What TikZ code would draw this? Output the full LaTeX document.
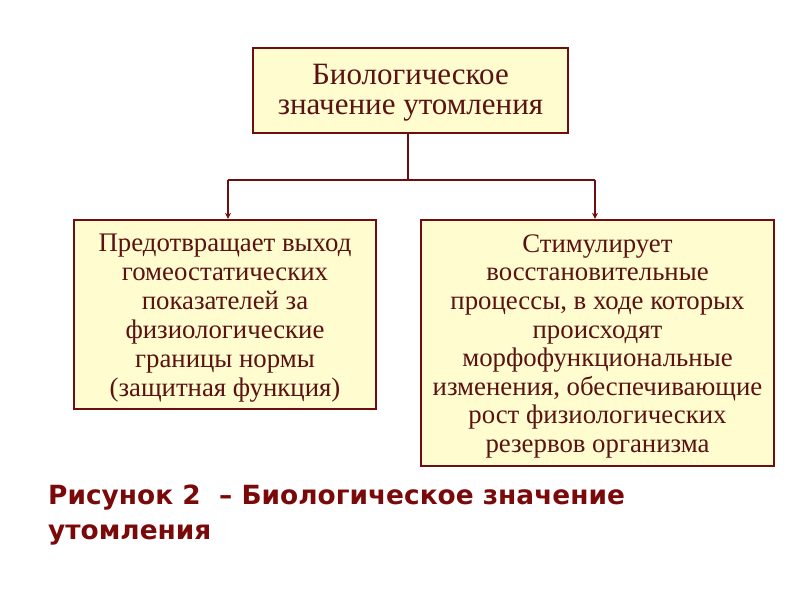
\documentclass[tikz,border=0pt]{standalone}
\usepackage{fontspec}
\setmainfont{Liberation Serif}
\newfontfamily\capfont{DejaVu Sans}
\usetikzlibrary{arrows.meta}
\definecolor{boxfill}{HTML}{FFFCCF}
\definecolor{boxline}{HTML}{6E0E0E}
\definecolor{boxtext}{HTML}{5A1212}
\definecolor{captext}{HTML}{7A0A0A}
\tikzset{
  card/.style={draw=boxline, line width=2.4pt, fill=boxfill, text=boxtext, align=center, inner sep=0pt,
    font=\fontsize{26.8}{29}\selectfont},
  link/.style={draw=boxline, line width=1.6pt},
  linkarrow/.style={link, -{Stealth[length=6pt,width=6pt]}}
}
\begin{document}
\begin{tikzpicture}[x=1pt,y=-1pt]
\useasboundingbox (0,0) rectangle (800,600);
\node[card, minimum width=315pt, minimum height=85pt, font=\fontsize{31}{30}\selectfont] (top) at (410.5,90.5)
  {\rule{0pt}{25pt}Биологическое\\значение утомления};
\node[card, minimum width=302pt, minimum height=189pt] (left) at (225,314.5)
  {\rule{0pt}{24.5pt}Предотвращает выход\\гомеостатических\\показателей за\\физиологические\\границы нормы\\(защитная функция)};
\node[card, minimum width=353pt, minimum height=246pt, font=\fontsize{26.8}{28.6}\selectfont] (right) at (597.5,343)
  {\rule{0pt}{24.5pt}Стимулирует\\восстановительные\\процессы, в ходе которых\\происходят\\морфофункциональные\\изменения, обеспечивающие\\рост физиологических\\резервов организма};
\coordinate (j) at (408,180);
\coordinate (jl) at (228,180);
\coordinate (jr) at (595,180);
\draw[link] (top.south -| j) -- (j);
\draw[link] (jl) -- (jr);
\draw[linkarrow] (jl) -- (jl |- left.north);
\draw[linkarrow] (jr) -- (jr |- right.north);
\node[anchor=north west, align=left, text=captext, inner sep=0pt,
  font=\capfont\bfseries\fontsize{26.4}{35}\selectfont] (cap) at (48,485)
  {Рисунок 2\ \ – Биологическое значение\\утомления};
\end{tikzpicture}
\end{document}
